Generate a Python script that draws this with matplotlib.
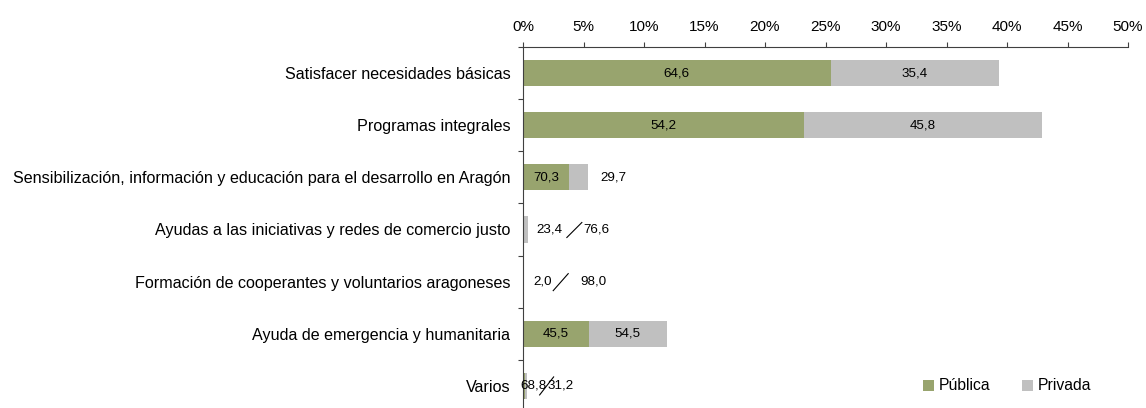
import matplotlib
matplotlib.use("Agg")
import matplotlib.pyplot as plt
from matplotlib.ticker import FixedLocator, PercentFormatter

plt.rcParams['font.family'] = ['Liberation Sans', 'DejaVu Sans']

categorias = [
    "Satisfacer necesidades básicas",
    "Programas integrales",
    "Sensibilización, información y educación para el desarrollo en Aragón",
    "Ayudas a las iniciativas y redes de comercio justo",
    "Formación de cooperantes y voluntarios aragoneses",
    "Ayuda de emergencia y humanitaria",
    "Varios",
]
# peso de cada línea sobre el total (%)
total = [39.35, 42.9, 5.4, 0.4, 0.1, 11.9, 0.3]
# reparto dentro de cada línea (%)
publica = [64.6, 54.2, 70.3, 23.4, 2.0, 45.5, 68.8]
privada = [35.4, 45.8, 29.7, 76.6, 98.0, 54.5, 31.2]
ticks_x = [0, 5, 10, 15, 20, 25, 30, 35, 40, 45, 50]

VERDE = '#98A46E'
GRIS = '#C0C0C0'
EJE = '#404040'

# etiquetas fuera de la barra: desplazamientos en píxeles desde el final
fuera = {
    2: {'priv': 25},
    3: {'pub': 22, 'priv': 69, 'raya': ((39, -8), (54, 7))},
    4: {'pub': 18, 'priv': 69, 'raya': ((29, -9), (44, 8))},
    6: {'pub': 7, 'priv': 34, 'raya': ((13, -9), (27, 9))},
}

fig = plt.figure(figsize=(11.46, 4.08), dpi=100)
ax = fig.add_axes([523 / 1146, -4 / 408, 605 / 1146, 365 / 408])

y = list(range(len(categorias)))
largo_pub = [t * p / 100 for t, p in zip(total, publica)]
largo_priv = [t * p / 100 for t, p in zip(total, privada)]

ax.barh(y, largo_pub, height=0.5, color=VERDE, label='Pública')
ax.barh(y, largo_priv, left=largo_pub, height=0.5, color=GRIS, label='Privada')

ax.set_xlim(0, 50)
ax.set_ylim(len(categorias) - 0.5, -0.5)

fmt = lambda v: f"{v:.1f}".replace('.', ',')
to_px = ax.transData.transform
to_data = ax.transData.inverted().transform

for i in y:
    reglas = fuera.get(i, {})
    if 'pub' not in reglas:
        ax.text(largo_pub[i] / 2, i, fmt(publica[i]), ha='center', va='center', fontsize=9.6)
    if 'priv' not in reglas:
        ax.text(largo_pub[i] + largo_priv[i] / 2, i, fmt(privada[i]),
                ha='center', va='center', fontsize=9.6)
    fx, fy = to_px((total[i], i))
    for clave, valor in (('pub', publica[i]), ('priv', privada[i])):
        if clave in reglas:
            px, py = to_data((fx + reglas[clave], fy))
            ax.text(px, py, fmt(valor), ha='center', va='center', fontsize=9.6)
    if 'raya' in reglas:
        (x0, y0), (x1, y1) = reglas['raya']
        a = to_data((fx + x0, fy + y0))
        b = to_data((fx + x1, fy + y1))
        ax.plot([a[0], b[0]], [a[1], b[1]], color='black', lw=0.8, clip_on=False)

ax.xaxis.tick_top()
ax.set_xticks(ticks_x)
ax.xaxis.set_major_formatter(PercentFormatter(decimals=0))
ax.tick_params(axis='x', direction='out', length=3.6, width=0.8, color=EJE,
               labelsize=11, pad=5.5)

ax.set_yticks(y)
ax.set_yticklabels(categorias)
ax.yaxis.set_minor_locator(FixedLocator([i - 0.5 for i in range(len(categorias) + 1)]))
ax.tick_params(axis='y', which='major', length=0, labelsize=11.65, pad=9)
ax.tick_params(axis='y', which='minor', length=3.6, width=0.8, color=EJE)

for lado in ('right', 'bottom'):
    ax.spines[lado].set_visible(False)
for lado in ('left', 'top'):
    ax.spines[lado].set_color(EJE)
    ax.spines[lado].set_linewidth(0.8)

fig.legend(loc='center left', bbox_to_anchor=(923 / 1146, 1 - 386 / 408),
           ncol=2, frameon=False, fontsize=11.3, handlelength=0.7, handleheight=0.7,
           handletextpad=0.3, columnspacing=2.0, borderaxespad=0, borderpad=0)

fig.savefig('out.png', dpi=100)
